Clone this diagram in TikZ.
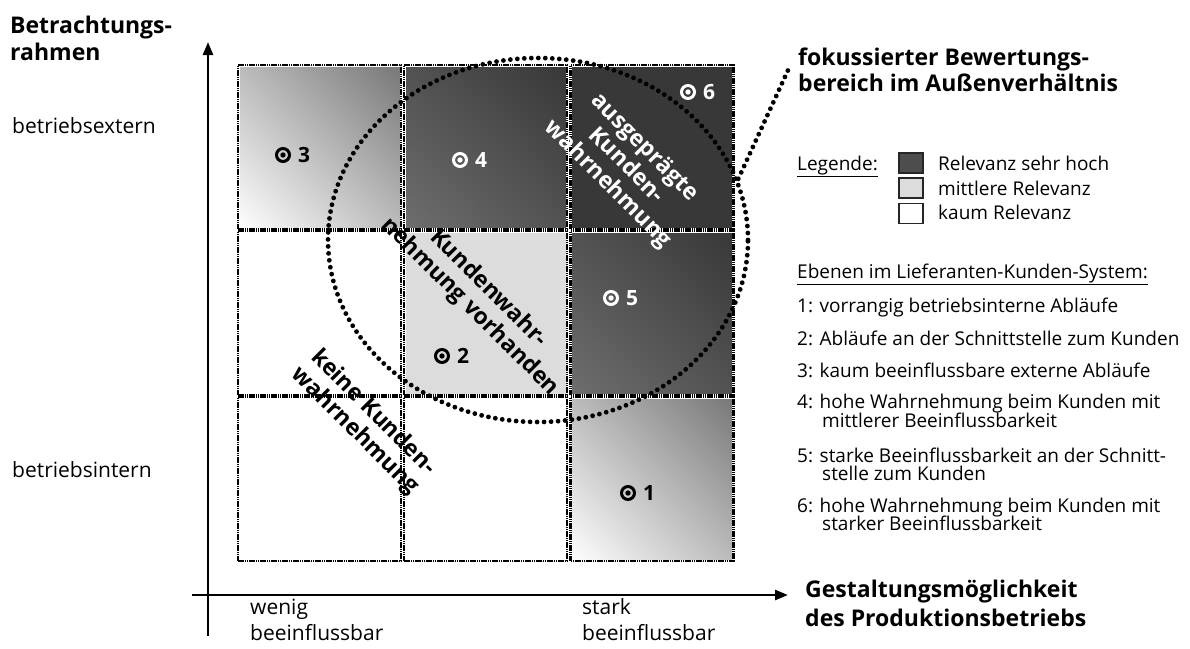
\documentclass[tikz,border=0pt]{standalone}
\usepackage{fontspec}
\setmainfont{Open Sans}
\usetikzlibrary{arrows.meta,shapes.geometric,shadings}
\definecolor{cellmid}{HTML}{BBBBBB}
\definecolor{cellgrey}{HTML}{777777}
\definecolor{darkA}{HTML}{6E6E6E}
\definecolor{darkM}{HTML}{525252}
\definecolor{darkB}{HTML}{383838}
\definecolor{lightcell}{HTML}{DCDCDC}
\definecolor{legdark}{HTML}{4D4D4D}
\begin{document}
\begin{tikzpicture}[x=1pt,y=-1pt,
  cellbox/.style={rectangle, minimum width=163pt, minimum height=164pt, inner sep=0pt,
    draw=white, line width=3pt,
    postaction={draw=black, line width=2.2pt, dash pattern=on 1.6pt off 0.6pt}},
  lightgrad/.style={shade, lower left=white, upper right=cellgrey,
    upper left=cellmid, lower right=cellmid},
  darkgrad/.style={shade, lower left=darkA, upper right=darkB,
    upper left=darkM, lower right=darkM},
  dots/.style={draw=black, line width=4.8pt, line cap=round, dash pattern=on 0pt off 7pt},
  axis/.style={line width=2.6pt, -{Triangle[length=13pt,width=10pt]}},
  target/.style={circle, draw=#1, line width=3pt, minimum size=13pt, inner sep=0pt,
    path picture={\fill[#1] (path picture bounding box.center) circle (2.7pt);}},
  num/.style={anchor=west, inner sep=0pt, text=#1, font=\fontsize{21}{24}\selectfont\bfseries},
  lbl/.style={anchor=base west, inner sep=0pt, font=\fontsize{21}{25}\selectfont},
  head/.style={anchor=base west, inner sep=0pt, font=\fontsize{23}{27}\selectfont\bfseries},
  leg/.style={anchor=base west, inner sep=0pt, font=\fontsize{19}{22}\selectfont},
  legsq/.style={rectangle, draw=black!85, line width=1.5pt, minimum width=24pt, minimum height=20pt, inner sep=0pt},
  rot/.style={rotate=-45, align=center, inner sep=0pt, font=\fontsize{23}{26}\selectfont\bfseries}
]
\useasboundingbox (0,0) rectangle (1190,648);

% grid of evaluation fields
\node[cellbox, lightgrad] (c11) at (319.5,147) {};
\node[cellbox, darkgrad] (c12) at (485.5,147) {};
\node[cellbox, fill=darkB] (c13) at (652,147) {};
\node[cellbox, fill=white] (c21) at (319.5,313) {};
\node[cellbox, fill=lightcell] (c22) at (485.5,313) {};
\node[cellbox, darkgrad] (c23) at (652,313) {};
\node[cellbox, fill=white] (c31) at (319.5,479) {};
\node[cellbox, fill=white] (c32) at (485.5,479) {};
\node[cellbox, lightgrad] (c33) at (652,479) {};

% axes
\coordinate (yb) at (208,636);
\coordinate (yt) at (208,42);
\coordinate (xl) at (192,595);
\coordinate (xr) at (788,595);
\draw[axis] (yb) -- (yt);
\draw[axis] (xl) -- (xr);

% focused region and its leader
\node[ellipse, minimum width=420pt, minimum height=364pt, inner sep=0pt, dots] (focus) at (538,240) {};
\coordinate (leadend) at (789,68);
\draw[dots] (focus.17) -- (leadend);

% numbered levels
\node[target=black] (t3) at (283,155) {};
\node[num=black] (n3) at ([xshift=7pt]t3.east) {3};
\node[target=white] (t4) at (460,160) {};
\node[num=white] (n4) at ([xshift=7pt]t4.east) {4};
\node[target=white] (t6) at (688,92) {};
\node[num=white] (n6) at ([xshift=7pt]t6.east) {6};
\node[target=white] (t5) at (611,298) {};
\node[num=white] (n5) at ([xshift=7pt]t5.east) {5};
\node[target=black] (t2) at (442,356) {};
\node[num=black] (n2) at ([xshift=7pt]t2.east) {2};
\node[target=black] (t1) at (628,493) {};
\node[num=black] (n1) at ([xshift=7pt]t1.east) {1};

% diagonal zone labels
\node[rot, text=white] (z6) at (626,166) {ausgeprägte\\Kunden-\\wahrnehmung};
\node[rot] (z2) at (479,298) {Kundenwahr-\\nehmung vorhanden};
\node[rot] (z0) at (364,422) {keine Kunden-\\wahrnehmung};

% axis captions
\node[head] (yh1) at (10,33) {Betrachtungs-};
\node[head] (yh2) at (10,60) {rahmen};
\node[lbl] (yext) at (12,133) {betriebsextern};
\node[lbl] (yint) at (12,477) {betriebsintern};
\node[lbl] (xw1) at (250,614) {wenig};
\node[lbl] (xw2) at (250,640) {beeinflussbar};
\node[lbl] (xs1) at (582,614) {stark};
\node[lbl] (xs2) at (582,640) {beeinflussbar};
\node[head] (xh1) at (805,597) {Gestaltungsmöglichkeit};
\node[head] (xh2) at (805,626) {des Produktionsbetriebs};
\node[head] (fh1) at (798,65) {fokussierter Bewertungs-};
\node[head] (fh2) at (798,91) {bereich im Außenverhältnis};

% legend
\node[leg] (legt) at (797,170) {\underline{Legende:}};
\node[legsq, fill=legdark] (sq1) at (911,163) {};
\node[legsq, fill=lightcell] (sq2) at (911,188) {};
\node[legsq, fill=white] (sq3) at (911,213.5) {};
\node[leg] (lg1) at (938,170) {Relevanz sehr hoch};
\node[leg] (lg2) at (938,195) {mittlere Relevanz};
\node[leg] (lg3) at (938,219) {kaum Relevanz};

% levels in the supplier-customer system
\node[leg] (et) at (797,278) {\underline{Ebenen im Lieferanten-Kunden-System:}};
\node[leg] (e1) at (797,312) {1: vorrangig betriebsinterne Abläufe};
\node[leg] (e2) at (797,345) {2: Abläufe an der Schnittstelle zum Kunden};
\node[leg] (e3) at (797,377) {3: kaum beeinflussbare externe Abläufe};
\node[leg] (e4) at (797,408) {4: hohe Wahrnehmung beim Kunden mit};
\node[leg] (e4b) at (822,427) {mittlerer Beeinflussbarkeit};
\node[leg] (e5) at (797,462) {5: starke Beeinflussbarkeit an der Schnitt-};
\node[leg] (e5b) at (822,480) {stelle zum Kunden};
\node[leg] (e6) at (797,512) {6: hohe Wahrnehmung beim Kunden mit};
\node[leg] (e6b) at (822,530) {starker Beeinflussbarkeit};
\end{tikzpicture}
\end{document}
